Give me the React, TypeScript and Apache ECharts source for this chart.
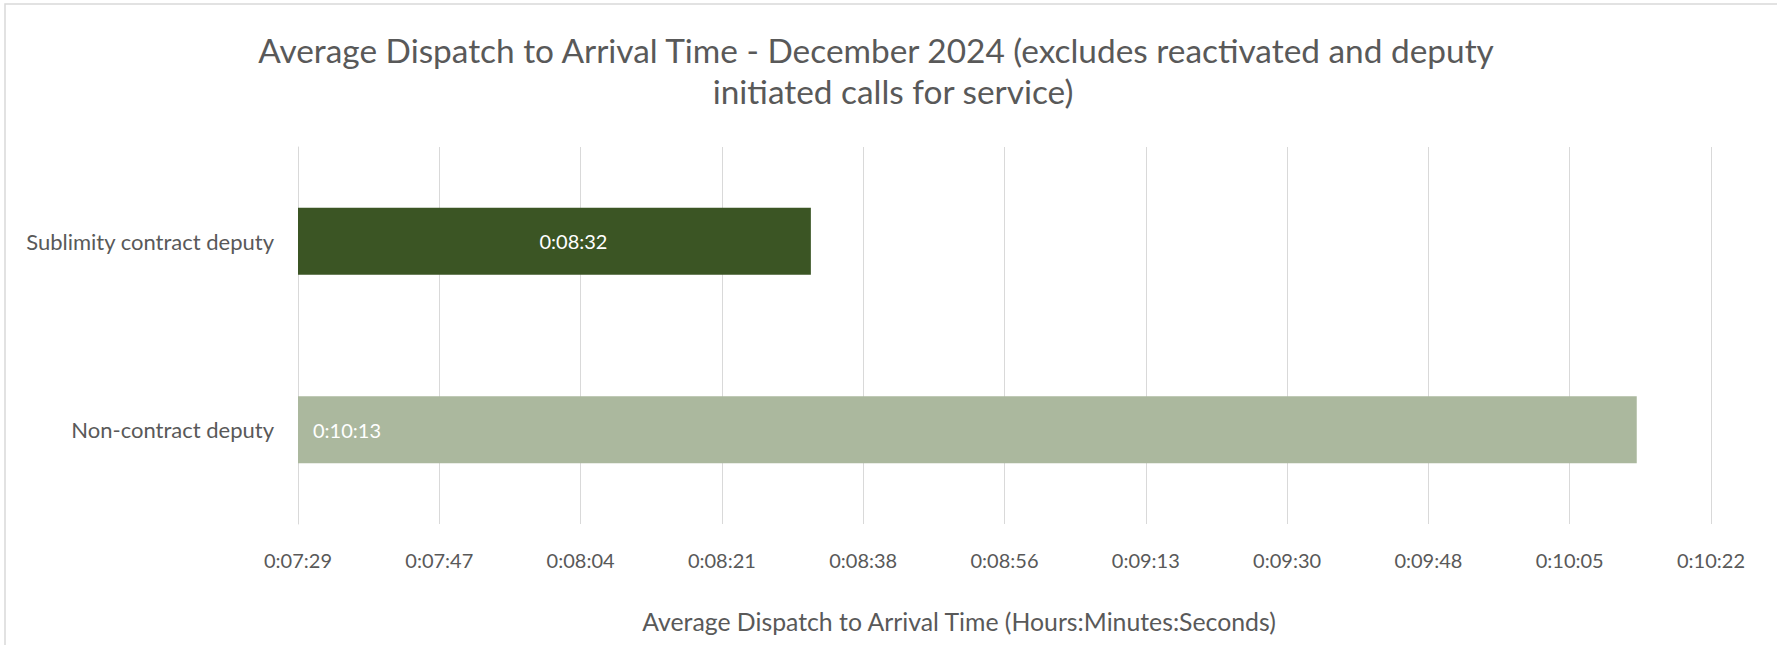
import React, { useEffect, useRef } from "react";
import * as echarts from "echarts";

const titleLines = [
  "Average Dispatch to Arrival Time - December 2024 (excludes reactivated and deputy",
  "initiated calls for service)",
];
const axisTitle = "Average Dispatch to Arrival Time (Hours:Minutes:Seconds)";
const categories = ["Sublimity contract deputy", "Non-contract deputy"];
const times = ["0:08:32", "0:10:13"];
const barColors = ["#3B5524", "#ABB89E"];
// Excel axis: min 0.0052 day, major unit 0.0002 day (in seconds)
const axisMinSec = 449.28;
const axisMaxSec = 622.08;
const axisStepSec = 17.28;

const toSec = (t: string) => {
  const [h, m, s] = t.split(":").map(Number);
  return h * 3600 + m * 60 + s;
};
const fmt = (v: number) => {
  const t = Math.round(v);
  const h = Math.floor(t / 3600);
  const m = Math.floor((t % 3600) / 60);
  const s = t % 60;
  return `${h}:${String(m).padStart(2, "0")}:${String(s).padStart(2, "0")}`;
};

const FONT = "Lato, 'Open Sans', sans-serif";
const GRAY = "#595959";

export default function App() {
  const ref = useRef<HTMLDivElement>(null);
  useEffect(() => {
    if (!ref.current) return;
    const chart = echarts.init(ref.current, undefined, { renderer: "svg" });
    const labelCfg = [
      { position: "inside", offset: [19, 0] },
      { position: "insideLeft", distance: 15 },
    ];
    const titleX = [876, 893];
    chart.setOption({
      animation: false,
      backgroundColor: "#ffffff",
      textStyle: { fontFamily: FONT },
      grid: { left: 298, right: 66, top: 147, bottom: 121, containLabel: false },
      xAxis: {
        type: "value",
        min: axisMinSec,
        max: axisMaxSec,
        interval: axisStepSec,
        axisLine: { show: false },
        axisTick: { show: false },
        splitLine: { show: true, lineStyle: { color: "#d9d9d9", width: 1 } },
        axisLabel: {
          formatter: (v: number) => fmt(v),
          color: GRAY,
          fontSize: 20,
          fontFamily: FONT,
          margin: 26,
        },
      },
      yAxis: {
        type: "category",
        data: categories,
        inverse: true,
        axisLine: { show: true, lineStyle: { color: "#d9d9d9" } },
        axisTick: { show: false },
        axisLabel: { color: GRAY, fontSize: 22, fontFamily: FONT, margin: 24 },
      },
      series: [
        {
          type: "bar",
          barWidth: 67,
          data: times.map((t, i) => ({
            value: toSec(t),
            itemStyle: { color: barColors[i] },
            label: {
              show: true,
              ...labelCfg[i],
              color: "#ffffff",
              fontSize: 20,
              fontFamily: FONT,
              formatter: () => t,
            },
          })),
        },
      ],
      graphic: [
        {
          type: "rect",
          shape: { x: 5, y: 4, width: 1800, height: 700 },
          style: { fill: "none", stroke: "#d9d9d9", lineWidth: 1.5 },
          silent: true,
        },
        ...titleLines.map((line, i) => ({
          type: "text",
          x: titleX[i],
          y: 50 + i * 41,
          style: {
            text: line,
            fill: GRAY,
            font: `33.4px ${FONT}`,
            textAlign: "center",
            textVerticalAlign: "middle",
          },
        })),
        {
          type: "text",
          x: 959,
          y: 621,
          style: {
            text: axisTitle,
            fill: GRAY,
            font: `24.8px ${FONT}`,
            textAlign: "center",
            textVerticalAlign: "middle",
          },
        },
      ],
    });
    return () => chart.dispose();
  }, []);
  return (
    <div
      ref={ref}
      style={{ position: "fixed", left: 0, top: 0, width: 1777, height: 645 }}
    />
  );
}
